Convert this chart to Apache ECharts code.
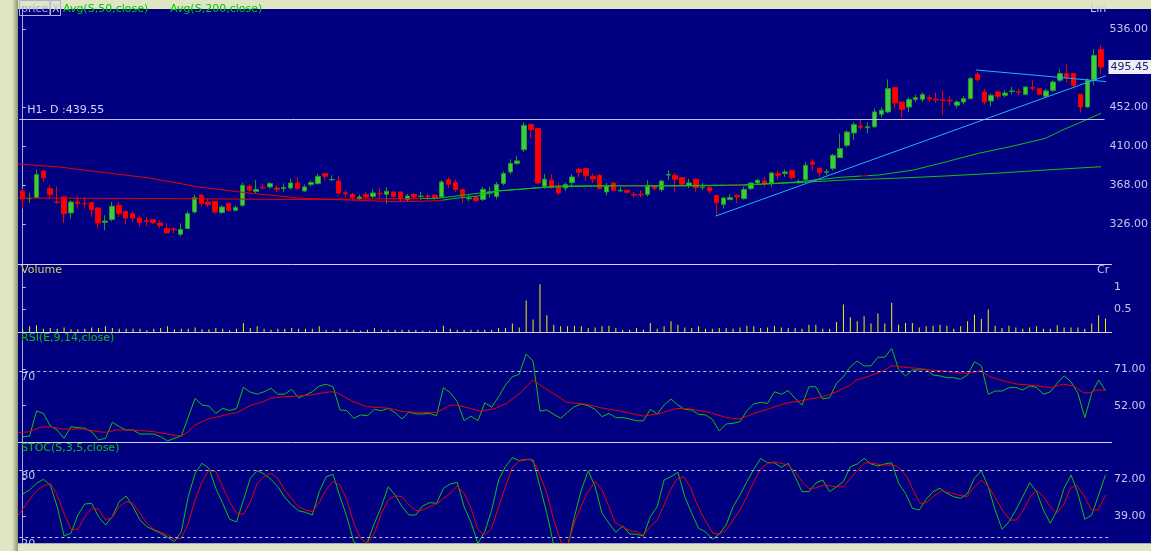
<!DOCTYPE html>
<html><head><meta charset="utf-8">
<script src="https://cdn.jsdelivr.net/npm/echarts@6/dist/echarts.min.js"></script>
<style>html,body{margin:0;padding:0;background:#dfe6c3;overflow:hidden}#c{width:1151px;height:551px}</style>
</head><body><div id="c"></div>
<script>
// [open, close, low, high]
const candles = [
[361.9,353.3,343,364.5],[353.5,354,349,360],[354.7,379.5,354,385.2],[383.4,376.3,371.6,384],[364.5,358,352.6,368],
[350,349.5,348,366.9],[355.4,337.5,327.4,356],[338.3,350,332,351.8],[350,348.3,343,356],[348.5,348,343,355],
[349.4,341.8,333.9,350],[343.6,327.4,321.4,344],[328,329.5,319.5,335.7],[331.1,345.4,329.2,350],[346.5,337.5,333.9,350],
[340,332.8,326,340.5],[337.5,332.8,328.5,340],[332.8,327.8,323.1,335],[329.8,329.2,323.9,334],[331,327.8,326,331.5],
[327.4,324.6,322,330],[321.4,316.7,316,327],[320.7,320.1,316,323],[315.2,320.4,313,327],[321.4,337.5,321,340],
[339.3,354.7,337.5,358],[357.2,348.3,344.7,359],[350,347.2,344.7,353.7],[350.7,339.3,337.5,351],[338.6,344.7,337.5,346.5],
[348.3,341.1,339.3,349],[341.1,344,340,346.5],[346.5,368,345,371],[366.9,362.6,360,368.8],[361.5,363.5,359,373.4],
[365.5,365.3,363.5,369],[366.2,369.9,364.5,371.6],[365.1,363.7,360.8,368],[364.5,365.5,361,370],[365.1,370.5,363.5,375.2],
[370.5,364.5,363.5,377],[361.9,366.2,361,368.8],[368.8,371,366.6,373.4],[369.9,377.7,368.8,380.5],[380.6,377.7,373.4,381],
[374,374.3,372.6,378.8],[372.6,359.7,357.2,378],[359.9,358.7,355,362.6],[358.3,354.7,352,359.7],[353.5,355.4,352,358],
[358,355.4,353,360.8],[356,359.7,354.3,363.7],[359.5,359,354.3,364.8],[358.3,361.5,348,366],[360.8,356,354.7,361],
[360.8,353.7,350,361],[352.6,356.5,351,358.5],[358,355.4,353,360],[356,356.3,352,361],[356.3,356,352,359],
[357.2,354.7,352.5,358.5],[355.4,371.6,354.7,373.4],[374.2,369.1,365,376.9],[370.9,363.4,361,374.2],[363.4,356.2,349,363.6],
[353.5,354.4,351,358.5],[354.7,351.8,350,357.2],[352.7,363.7,351,366.5],[359.7,360.8,355,366.5],[356,369,353,371.6],
[369.9,380.6,368,383],[382.3,391.4,380,396],[391.4,394.3,390,400],[406.4,432.6,404,436],[433.4,428,418.8,434.3],
[429.1,370.5,369,429.5],[366.9,374.5,364.5,380],[373.4,365.5,364.5,380],[366.2,359.7,357,371],[365.1,368.8,362,371],
[371,377,367,380],[385,382,377,387],[386,378.5,373,386.5],[377.7,374.8,370.5,380.6],[378.8,364.5,363.5,380],
[360.8,366.9,357,370.5],[370.5,362.6,361.9,371.6],[362,362.6,361,366],[362.6,360.5,359,362.8],[358.3,357.5,355,361],
[358.3,357.8,355,362.5],[358.3,368,356,373.4],[366.9,364.5,362.6,368],[363.3,372.6,361,373.6],[379,379.7,373.4,384.5],
[378.8,374.5,361,381.2],[376.3,369.1,368,376.5],[368,370.5,365,375],[374.5,365.5,361,375],[365.5,366,363,370.5],
[365.5,361.9,359,368],[357.2,349.4,334.9,357.5],[347.5,354.3,343,355.4],[352.6,354.7,352,358.3],[357.2,355.4,349,358.3],
[353.7,363.4,352.6,366.5],[364.5,370.5,362.6,371],[370.5,373.4,369,375],[372.6,369.9,366,377],[370.5,381.3,366,382.3],
[380.6,378.8,374,384],[380.6,382.3,377,385],[384.2,376.3,374,384.5],[371.4,372,370,374.5],[374.2,389.6,371.5,393],
[393.1,390.6,384,396.5],[386,381.6,377,387.8],[382,382.5,378.8,385.5],[386,400.3,384,402],[397.8,407.5,397.5,423.6],
[411,425.4,409,427.2],[424.3,433.4,417,436],[431.7,430.5,428,439],[430,431,424,436],[431,447,430,450.6],
[444.5,448.8,441,451.8],[447,472.1,446,482],[473.2,456.6,451,474],[457.7,449.8,441,458],[452.3,460.3,447,463],
[460.3,462.4,457.7,465.5],[460.6,465.7,457.7,468],[462.4,461,457.7,465.3],[460.6,460,456.6,468],[459.9,459.4,444,470],
[459.5,459,454,464],[454.2,457.7,451,459.4],[457.7,461.3,455,464],[461.3,482.9,460.3,484.6],[487.5,481.8,479.4,490],
[468.5,457.7,455,472],[458.8,464.9,453,466.7],[468.5,463.8,461,469.6],[464.9,467.4,463,470.5],[469.2,469.6,466,474],
[468.8,468.3,465,472],[466,473.9,465,474.5],[473.2,472.6,470,481],[472.1,466,465,472.5],[463.8,469.6,463,472],
[470.3,479.3,468.5,481],[481.1,488.3,479,493],[488.3,484,479,498.3],[488.3,475.7,474,488.5],[466,452.3,446.3,466.5],
[452.3,481.1,452,483],[481.8,508,475.7,514.5],[514.1,495.45,488,519]
];
const volume = [
0.06,0.13,0.15,0.07,0.09,0.07,0.10,0.06,0.06,0.07,0.10,0.09,0.13,0.09,0.07,0.07,0.07,0.07,0.04,0.07,
0.09,0.13,0.06,0.07,0.07,0.10,0.06,0.06,0.09,0.07,0.04,0.07,0.20,0.09,0.13,0.07,0.05,0.07,0.07,0.09,
0.07,0.07,0.07,0.13,0.05,0.03,0.07,0.05,0.05,0.03,0.05,0.09,0.05,0.05,0.05,0.05,0.05,0.05,0.03,0.03,
0.05,0.14,0.07,0.05,0.05,0.05,0.05,0.05,0.05,0.09,0.09,0.19,0.10,0.70,0.28,1.06,0.37,0.16,0.13,0.13,
0.14,0.13,0.09,0.10,0.13,0.14,0.09,0.05,0.05,0.09,0.05,0.20,0.07,0.13,0.24,0.16,0.10,0.09,0.13,0.07,
0.07,0.09,0.09,0.07,0.10,0.14,0.13,0.09,0.10,0.14,0.10,0.09,0.09,0.07,0.16,0.16,0.07,0.07,0.22,0.61,
0.33,0.24,0.35,0.19,0.41,0.19,0.65,0.16,0.20,0.20,0.10,0.13,0.14,0.16,0.14,0.07,0.13,0.24,0.39,0.29,
0.50,0.14,0.09,0.14,0.10,0.07,0.10,0.13,0.07,0.07,0.15,0.10,0.10,0.10,0.07,0.19,0.37,0.30
];
const rsi = [
35.9,36.3,49.2,48,41.5,39.4,35.1,41.1,40.6,40.3,38.5,34.2,35.1,43.4,41.1,39.4,39.4,37.3,37.3,37.3,
35.9,33.7,35.1,36.3,46,55.8,52.3,51.8,48,50.6,49.5,50.5,61.5,59,58,59.2,61,57.9,58,60.5,
56.1,57.5,59.2,62.2,63.1,61.8,49.8,49.4,45.5,47.2,46.8,50.1,49.4,50.6,48.4,45.1,48.6,47.7,47.7,48,
46.8,61.3,58.7,54.1,44.2,46.6,44.2,53.5,51.2,56.6,62.7,67,68.3,78.8,75.1,49.2,49.8,47.5,45.5,48.6,
51.5,52.9,52,50.1,46.3,48,45.8,45.8,45.1,44.2,44.1,50.1,47.7,52.3,55.5,52.3,50.1,49.8,47.5,47.2,
44.9,38.9,42.5,42.9,43.7,49.4,52.9,53.7,53.2,59.2,57.9,59.8,55.8,52.3,61.8,61.8,55.5,56.1,63.6,67,
72.2,75.1,72.6,72.6,77.1,77.1,81.7,70.8,67.4,70.5,70.5,70.8,67.9,67.4,66.5,66.5,65.7,67.9,74.8,72.6,
57.9,59.6,59.6,61.3,61.5,60.1,62.2,61.5,57.9,59.2,63.6,67.4,64.4,58.4,45.8,58.4,65.3,59.8
];
// [day position, value]
const rsiSignal = [
[-0.6,38],[1,38.5],[2.5,40.8],[3.9,41.1],[5.9,39.9],[8.8,39.9],[11,38.5],[12,38.2],[13.6,39.4],[16,39.4],
[19,38.5],[20.9,37.3],[23,36.3],[24,38.5],[25,42],[26.7,44.9],[28,46],[30,47.7],[31,48.3],[33,52.1],
[34.9,54.1],[35.9,55.8],[37.8,56.6],[39.7,57],[41.7,57.5],[43.1,58.4],[44.6,59.2],[45.5,58.9],[47.9,54.1],[49.9,51.5],
[51.8,51],[53.3,50.6],[55.2,48.9],[57.1,48.6],[59.1,48.4],[60,48.4],[62,52.3],[62.9,52.3],[64.9,50.6],[66.3,49.2],
[68.3,50.3],[70.2,53.2],[72.1,58.5],[73.6,63.9],[74,65.3],[75,62.7],[76.9,58.4],[78.9,53.7],[81.8,52.7],[83.7,51],
[86.6,49.2],[90,46.6],[92.4,48],[94.8,50.6],[96.8,50.3],[99.7,48.4],[102.1,45.8],[104,45.1],[106,48],[108.4,50.6],
[110.8,53.5],[112.7,54.4],[114.2,55.5],[116.1,56.6],[118,59.2],[120,62.7],[120.9,65.3],[122.9,67.5],[124.8,70.1],[126,72.7],
[127.7,71.9],[129.6,71.4],[131.6,70.5],[133.5,70],[135.4,69.1],[136.9,68.8],[139,70.1],[140.2,67],[142.2,64.8],[144.1,63.2],
[146.1,62.7],[148,61.8],[149,61.3],[150.9,63.1],[152.4,62.2],[153.8,58.7],[154.7,58.7],[155.7,60.1],[157,60.1]
];
const stoc = [
58.6,62.2,68.1,71.7,66.6,47.3,21.2,23.6,39.9,49.7,50.3,38.4,31,38.4,51.8,56.8,47.3,35.4,29.5,26.5,
23.6,20,16.1,25,56.2,77.1,86,81.5,63.7,50.3,36.1,33.7,53,72.5,79.4,76.5,71.7,65.1,55.7,48.8,
43.7,42.3,39.9,60.7,74.1,76.2,56.2,38.4,16.1,11.6,16.1,32.5,47.3,65.1,57.7,47.3,39.9,39.9,47.9,50.9,
50.3,63.7,67.5,69,47.3,33.4,14.6,25,44.3,71.1,83,91,88.5,89.5,88.9,65.1,41.4,13.1,5.7,11.6,
38.4,62.2,79.4,65.1,41.4,32.5,24.5,30.1,23,22.7,21.2,38.4,47.3,71.1,74.1,78,56.2,41.4,28,25,
18.2,23,31,47.3,57.7,69.6,80.6,90.4,86.5,86.5,82.4,86,74.1,60.7,60.7,68.4,71.1,60.7,65.1,69.6,
83,85.4,90.4,85.4,83.6,85.4,86.5,68.1,59.2,45.9,44.3,53.9,60.7,63.7,59.2,56.2,54.8,59.2,72.6,79.4,
65.1,44.3,27.1,33.9,44.3,56.2,68.7,60.7,44.3,32.5,44.3,63.7,75.6,59.2,36.1,39.9,57.7,75.6
];
const stocSignal = [
[-0.6,39.9],[0.6,50.3],[1.9,60.7],[3,65.8],[4,68.1],[4.9,59.2],[5.9,42.8],[7,27.1],[8,27.1],[9,38.4],
[10,45.9],[11,45],[12,35.4],[13,37.8],[14,47.3],[15,51.8],[16,50.3],[17,41.4],[18,32.5],[19,27.1],
[21,22],[22,18.2],[23,19.1],[24,32.5],[25,53.3],[26,69.6],[27,80],[28,78.5],[29,65.1],[30,51.8],
[31,41.4],[32,40.5],[33,51],[34,68.1],[35,74.1],[36,77.1],[37,72.6],[38,62.2],[39,54.8],[40,47.3],
[41,44.3],[42,42.8],[43,50.9],[44,62.8],[45,69.6],[46,66.6],[47,53.3],[48,32.5],[49,19.1],[50,14.6],
[51,23.6],[52,41.4],[53,53.3],[54,57.1],[55,56.2],[56,48.8],[57,43.7],[58,44.3],[59,47.3],[60,49.7],
[61,54.8],[62,59.2],[63,65.8],[64,59.2],[65,45.9],[66,27.1],[67,22],[68,28],[69,47.3],[70,65.1],
[71,82.1],[72,88],[73.6,89.8],[74.5,83],[76,59.2],[77,35.4],[78.2,13.1],[79.1,14.6],[80.1,35.4],[81.8,59.2],
[83,69.6],[84,62.2],[85,47.3],[85.9,33],[86.9,29.5],[88.1,25.9],[89,25],[90,22],[91,29.5],[92,35.4],
[92.9,47.3],[93.9,62.2],[94.8,71.7],[95.8,74.1],[96.8,65.1],[97.7,50.3],[98.9,35.4],[100.1,23.6],[101.1,23],[102,26.5],
[103,35.4],[104,44.3],[105,56.2],[105.9,68.1],[106.9,80.6],[108,86],[109.1,87.4],[110.3,85.4],[111,84.5],[112,78.5],
[113,69.6],[114,63.5],[115,64],[116.1,66.6],[117.1,65.8],[118,65.1],[119,65.1],[120,72.6],[120.9,78.5],[122.1,86.5],
[123.3,86],[124.6,84.5],[126,84.5],[126.9,83],[128.2,74.1],[129.1,62.2],[130.1,50.3],[131,50.9],[132,56.2],[133.2,61.3],
[134.5,59.8],[135.7,57.7],[136.9,56.2],[137.8,63.7],[139,71.1],[140.2,63.7],[141.2,53.3],[142.2,42.8],[143.2,35.4],[144.1,35.4],
[145.1,44.3],[146.1,56.2],[147,62.2],[148,56.2],[149,47.3],[149.9,41.4],[150.9,48.8],[151.9,63.7],[152.8,66.6],[153.8,57.7],
[155,44.3],[155.9,44.3],[157,57.7]
];
const ma50 = [
[-0.7,391],[5.4,387.7],[11.2,382.3],[18.5,375.8],[25.7,366.1],[33,359.6],[40.2,354.3],[47.5,352.1],[54.7,350.3],[60.5,351.4],
[63.4,354.3],[66.3,356.5],[69.2,361.9],[76,365.9],[77.9,367.3],[91,367.5],[105.5,368.3],[112.7,371.6],[119,376.6],[122.1,378],
[124.7,379.1],[129.7,384.5],[134.5,393.4],[139.2,402.5],[144.2,410.3],[148.9,418.6],[151.4,427.6],[153.7,434.8],[157,445.5]
];
const ma200 = [
[-0.7,354.3],[18.5,353.8],[40.2,352.7],[57.6,353.8],[60.5,354],[66.3,359.4],[69.2,361.9],[76,365.9],[83.7,367.3],[98.2,367.3],
[105.5,368.6],[112.7,370.9],[120,373.8],[127.2,375.6],[134.5,378.1],[141.7,381],[149,384.5],[157,388]
];
const trendUp = [[100.9,334.9],[157.9,486.5]];
const trendTop = [[138.8,492.2],[157.9,479.6]];
const h1Level = 439.55;
const lastPrice = 495.45;
const priceTicks = [326,368,410,452,536];
const volumeTicks = [0.5,1];
const rsiTicks = [52,71];
const stocTicks = [39,72];
const rsiLevels = [70];
const stocLevels = [80,20];
const days = candles.map((_, i) => 'D' + (i + 1));

const chart = echarts.init(document.getElementById('c'), null, {renderer: 'canvas'});
const LAV = '#c4c4ec', FONT = 'DejaVu Sans', RED = '#e80000', GRN = '#10c010', CYAN = '#22b4f0';
const L = 19.25, R = 42.05;
const grid = [
  {left: L, right: R, top: 9, height: 255},
  {left: L, right: R, top: 264, height: 68},
  {left: L, right: R, top: 332, height: 110},
  {left: L, right: R, top: 442, height: 101.5}
];
const xAxis = [];
for (let g = 0; g < 4; g++) xAxis.push({type: 'category', gridIndex: g, data: days, show: false, boundaryGap: true});
for (let g = 0; g < 4; g++) xAxis.push({type: 'value', gridIndex: g, min: -0.5, max: days.length - 0.5, show: false});
function yAx(g, min, max, ticks, fmt) {
  return {type: 'value', gridIndex: g, position: 'right', offset: 3, min: min, max: max,
    splitLine: {show: false},
    axisLine: {show: true, lineStyle: {color: '#a8a8d8', width: 1}},
    axisTick: {show: true, length: 3, customValues: ticks, lineStyle: {color: LAV}},
    axisLabel: {show: true, customValues: ticks, color: LAV, fontFamily: FONT, fontSize: 11, margin: 2, formatter: fmt}};
}
const f2 = v => Number(v).toFixed(2);
const yAxis = [
  yAx(0, 283.25, 557.86, priceTicks, f2),
  yAx(1, 0, 1.511, volumeTicks, v => String(v)),
  yAx(2, 33.18, 90.17, rsiTicks, f2),
  yAx(3, 14.47, 105.0, stocTicks, f2)
];
function levelLine(levels) {
  return {silent: true, symbol: ['none', 'none'], animation: false,
    lineStyle: {color: '#c0c0ec', type: [3, 3], width: 1},
    label: {show: true, position: 'insideStartBottom', formatter: p => String(p.value), color: LAV, fontFamily: FONT, fontSize: 11, distance: [2, 1]},
    data: levels.map(v => ({yAxis: v}))};
}
const lineBase = {type: 'line', symbol: 'none', smooth: false, animation: false, silent: true};
const txt = (t, x, y, color) => ({type: 'text', x: x, y: y, z: 50, silent: true,
  style: {text: t, fill: color, font: '11px "DejaVu Sans"', textVerticalAlign: 'top', verticalAlign: 'top'}});
const option = {
  backgroundColor: '#dfe6c3',
  animation: false,
  grid: grid, xAxis: xAxis, yAxis: yAxis,
  visualMap: [
    {type: 'piecewise', show: false, seriesIndex: 2, dimension: 0,
      pieces: [{lt: 61, color: RED}, {gte: 61, lt: 122, color: GRN}, {gte: 122, lt: 123, color: RED}, {gte: 123, color: GRN}]},
    {type: 'piecewise', show: false, seriesIndex: 1, dimension: 0,
      pieces: [{lt: 58, color: RED}, {gte: 58, lt: 86, color: GRN}, {gte: 86, lt: 91, color: RED}, {gte: 91, lt: 102, color: GRN}, {gte: 102, lt: 105, color: RED}, {gte: 105, color: GRN}]}
  ],
  series: [
    {type: 'candlestick', xAxisIndex: 0, yAxisIndex: 0, data: candles, barWidth: 5, animation: false, silent: true,
      itemStyle: {color: '#3ccc3c', color0: '#ff0000', borderColor: '#1e9e1e', borderColor0: '#f00000', borderWidth: 1},
      markLine: {silent: true, symbol: ['none', 'none'], animation: false, data: [
        {yAxis: h1Level, lineStyle: {color: '#c4c4ec', width: 1, type: 'solid'},
          label: {show: true, position: 'insideStartTop', formatter: 'H1- D :' + h1Level.toFixed(2), color: '#d4d4f4', fontFamily: FONT, fontSize: 11, distance: [8, 3]}}
      ]}},
    Object.assign({}, lineBase, {name: 'MA200', xAxisIndex: 4, yAxisIndex: 0, data: ma200, lineStyle: {width: 1}}),
    Object.assign({}, lineBase, {name: 'MA50', xAxisIndex: 4, yAxisIndex: 0, data: ma50, lineStyle: {width: 1}}),
    Object.assign({}, lineBase, {xAxisIndex: 4, yAxisIndex: 0, data: trendUp, clip: false, lineStyle: {width: 1, color: CYAN}}),
    Object.assign({}, lineBase, {xAxisIndex: 4, yAxisIndex: 0, data: trendTop, clip: false, lineStyle: {width: 1, color: CYAN},
      markLine: {silent: true, symbol: ['none', 'none'], animation: false, data: [
        {yAxis: lastPrice, lineStyle: {color: 'rgba(0,0,0,0)', width: 1},
          label: {show: true, position: 'end', formatter: lastPrice.toFixed(2), color: '#20206a', backgroundColor: '#eeeefa', padding: [2, 3, 1, 2], fontFamily: FONT, fontSize: 11, distance: 4}}
      ]}}),
    {type: 'bar', xAxisIndex: 1, yAxisIndex: 1, data: volume, barWidth: 1, itemStyle: {color: '#f0f000'}, animation: false, silent: true},
    Object.assign({}, lineBase, {xAxisIndex: 2, yAxisIndex: 2, data: rsi, lineStyle: {width: 1, color: GRN}, markLine: levelLine(rsiLevels)}),
    Object.assign({}, lineBase, {xAxisIndex: 6, yAxisIndex: 2, data: rsiSignal, lineStyle: {width: 1, color: RED}}),
    Object.assign({}, lineBase, {xAxisIndex: 3, yAxisIndex: 3, data: stoc, lineStyle: {width: 1, color: GRN}, markLine: levelLine(stocLevels)}),
    Object.assign({}, lineBase, {xAxisIndex: 7, yAxisIndex: 3, data: stocSignal, lineStyle: {width: 1, color: RED}})
  ],
  graphic: [
    {type: 'rect', z: -10, silent: true, shape: {x: 18, y: 9, width: 1133, height: 534.5}, style: {fill: '#000080'}},
    {type: 'rect', z: -9, silent: true, shape: {x: 12, y: 0, width: 6, height: 551},
      style: {fill: new echarts.graphic.LinearGradient(0, 0, 1, 0, [{offset: 0, color: '#dfe6c3'}, {offset: 1, color: '#8e9670'}])}},
    {type: 'line', z: 40, silent: true, shape: {x1: 18, y1: 264.5, x2: 1112, y2: 264.5}, style: {stroke: '#d4d4ee', lineWidth: 1}},
    {type: 'line', z: 40, silent: true, shape: {x1: 18, y1: 332.5, x2: 1112, y2: 332.5}, style: {stroke: '#d4d4ee', lineWidth: 1}},
    {type: 'line', z: 40, silent: true, shape: {x1: 18, y1: 442.5, x2: 1112, y2: 442.5}, style: {stroke: '#d4d4ee', lineWidth: 1}},
    {type: 'rect', z: 60, silent: true, shape: {x: 18, y: 543.5, width: 1133, height: 8}, style: {fill: '#dfe6c3'}},
    {type: 'rect', z: 50, silent: true, shape: {x: 19.5, y: 0.5, width: 30.5, height: 15}, style: {fill: 'none', stroke: '#b0b0e0', lineWidth: 1}},
    {type: 'rect', z: 50, silent: true, shape: {x: 50.5, y: 0.5, width: 10, height: 15}, style: {fill: 'none', stroke: '#b0b0e0', lineWidth: 1}},
    txt('price', 21, 4, '#a8a8e8'),
    txt('X', 52, 4, '#c0c0f0'),
    txt('Avg(S,50,close)', 63, 4, '#00c800'),
    txt('Avg(S,200,close)', 170, 4, '#00c800'),
    txt('Lin', 1090, 4, LAV),
    txt('Volume', 21, 265, '#d4d45a'),
    txt('Cr', 1097, 265, LAV),
    txt('RSI(E,9,14,close)', 21, 333, GRN),
    txt('STOC(S,3,5,close)', 21, 443, GRN)
  ]
};
chart.setOption(option);
</script>
</body></html>
